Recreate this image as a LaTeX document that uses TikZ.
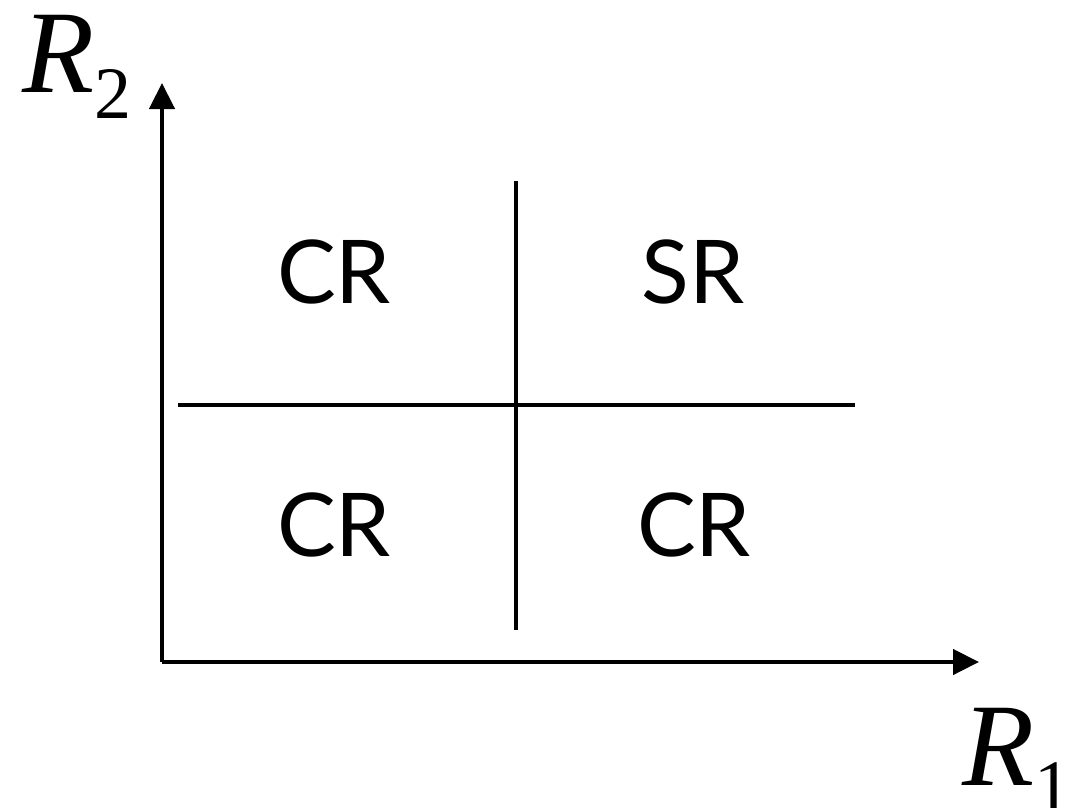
\documentclass[tikz,border=0pt]{standalone}
\usepackage{fontspec}
\setmainfont{Liberation Serif}
\newfontfamily\lblfont{Lato}
\usetikzlibrary{arrows.meta}
\tikzset{
  axis/.style={line width=4.5pt, -{Triangle[length=26pt,width=25pt]}},
  divider/.style={line width=4.5pt},
  region/.style={font=\lblfont\fontsize{88}{96}\selectfont, inner sep=0pt, anchor=base},
  axlabel/.style={inner sep=0pt, anchor=base west}
}
\begin{document}
\begin{tikzpicture}[x=1pt,y=-1pt]
\useasboundingbox (0,0) rectangle (1077,807);
\coordinate (O) at (162,662);
\coordinate (ytip) at (162,83);
\coordinate (xtip) at (979,662);
\coordinate (hL) at (178,405);
\coordinate (hR) at (855,405);
\coordinate (vT) at (516,181);
\coordinate (vB) at (516,630);
\draw[axis] (O) -- (ytip);
\draw[axis] (O) -- (xtip);
\draw[divider] (hL) -- (hR);
\draw[divider] (vT) -- (vB);
\node[region] (cr1) at (334,303) {CR};
\node[region] (sr) at (693,303) {SR};
\node[region] (cr2) at (334,556) {CR};
\node[region] (cr3) at (694,556) {CR};
\node[axlabel] (r2) at (22,92) {\fontsize{118}{122}\selectfont\itshape R\raisebox{-26pt}{\upshape\fontsize{74}{80}\selectfont 2}};
\node[axlabel] (r1) at (962,785) {\fontsize{118}{122}\selectfont\itshape R\raisebox{-26pt}{\upshape\fontsize{74}{80}\selectfont 1}};
\end{tikzpicture}
\end{document}
